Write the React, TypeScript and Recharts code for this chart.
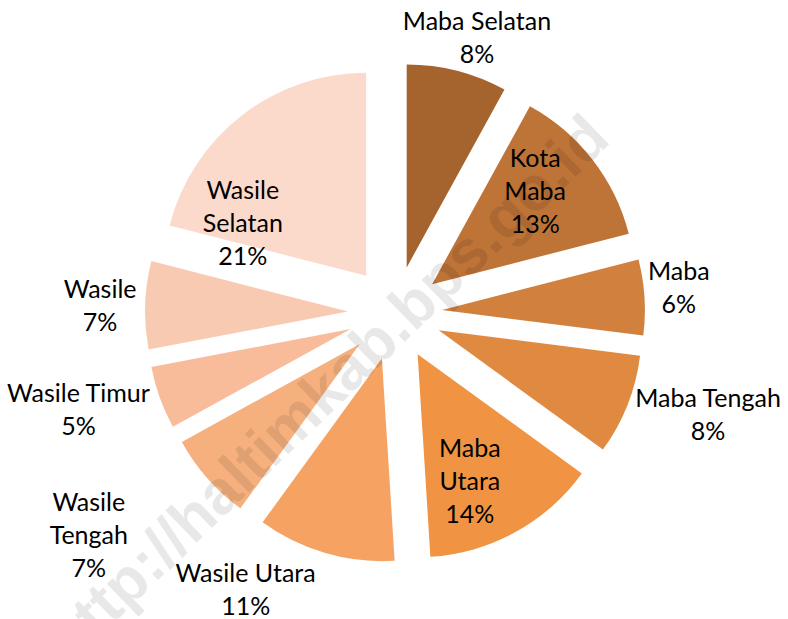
import { PieChart, Pie, Sector } from "recharts"

const regions = [
  "Maba Selatan",
  "Kota Maba",
  "Maba",
  "Maba Tengah",
  "Maba Utara",
  "Wasile Utara",
  "Wasile Tengah",
  "Wasile Timur",
  "Wasile",
  "Wasile Selatan",
]
const shares = [8, 13, 6, 8, 14, 11, 7, 5, 7, 21]
const labelLines = [
  ["Maba Selatan"],
  ["Kota", "Maba"],
  ["Maba"],
  ["Maba Tengah"],
  ["Maba", "Utara"],
  ["Wasile Utara"],
  ["Wasile", "Tengah"],
  ["Wasile Timur"],
  ["Wasile"],
  ["Wasile", "Selatan"],
]
const colors = [
  "#A5632E",
  "#BE7337",
  "#D1803E",
  "#E08940",
  "#F09443",
  "#F5A262",
  "#F6B07E",
  "#F8BC9A",
  "#F9CAB2",
  "#FBDACC",
]
// where each label sits: distance from centre, degrees clockwise from 12 o'clock
const labelSpots = [
  [287, 16.6],
  [186, 48.9],
  [285, 84.9],
  [329, 107.9],
  [184, 156],
  [314, 208.4],
  [378, 234.1],
  [331, 253],
  [295, 271.4],
  [177, 300.7],
]

const data = regions.map((name, i) => ({ name, value: shares[i] }))

const RAD = Math.PI / 180
const EXPLODE = 47
const FONT = "Lato, sans-serif"
const LINE_H = 33

const renderSlice = (props: any) => {
  const { cx, cy, midAngle, innerRadius, outerRadius, startAngle, endAngle, index } = props
  const dx = EXPLODE * Math.cos(-midAngle * RAD)
  const dy = EXPLODE * Math.sin(-midAngle * RAD)
  return (
    <Sector
      key={`slice-${index}`}
      cx={cx + dx}
      cy={cy + dy}
      innerRadius={innerRadius}
      outerRadius={outerRadius}
      startAngle={startAngle}
      endAngle={endAngle}
      fill={colors[index]}
      stroke="none"
    />
  )
}

const renderLabel = (props: any) => {
  const { cx, cy, index, value } = props
  const [r, deg] = labelSpots[index]
  const x = cx + r * Math.sin(deg * RAD)
  const y = cy - r * Math.cos(deg * RAD)
  const lines = [...labelLines[index], `${value}%`]
  const n = lines.length
  return (
    <text
      key={`label-${index}`}
      x={x}
      textAnchor="middle"
      fill="#000"
      fontFamily={FONT}
      fontSize={25}
    >
      {lines.map((t, i) => (
        <tspan key={i} x={x} y={y + (i - (n - 1) / 2) * LINE_H + 9}>
          {t}
        </tspan>
      ))}
    </text>
  )
}

export default function App() {
  return (
    <div style={{ position: "absolute", left: 0, top: 0, width: 788, height: 619, background: "#fff" }}>
      <PieChart width={788} height={619} margin={{ top: 0, right: 0, bottom: 0, left: 0 }}>
        <Pie
          data={data}
          dataKey="value"
          nameKey="name"
          cx={395}
          cy={313}
          outerRadius={203}
          startAngle={90}
          endAngle={-270}
          fill="none"
          stroke="none"
          labelLine={false}
          label={renderSlice}
          isAnimationActive={false}
        />
        <Pie
          data={data}
          dataKey="value"
          nameKey="name"
          cx={395}
          cy={313}
          outerRadius={203}
          startAngle={90}
          endAngle={-270}
          fill="none"
          stroke="none"
          labelLine={false}
          label={renderLabel}
          isAnimationActive={false}
        />
      </PieChart>
      <svg
        width={788}
        height={619}
        style={{ position: "absolute", left: 0, top: 0, pointerEvents: "none" }}
      >
        <text
          x={326}
          y={388}
          textAnchor="middle"
          dominantBaseline="central"
          transform="rotate(-44 326 388)"
          fontFamily="'Liberation Sans', Arial, sans-serif"
          fontWeight="bold"
          fontSize={62}
          fill="#000"
          fillOpacity={0.09}
        >
          http://haltimkab.bps.go.id
        </text>
      </svg>
    </div>
  )
}
